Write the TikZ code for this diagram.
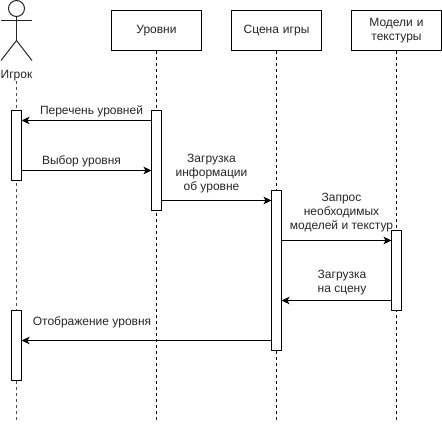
\documentclass[tikz,border=0pt]{standalone}
\usepackage{fontspec}
\setmainfont{Liberation Sans}
\usetikzlibrary{arrows.meta}
\tikzset{
  x=1pt,y=-1pt,
  every node/.style={font=\fontsize{12}{14}\selectfont,text=black!85,inner sep=0pt,outer sep=0pt},
  headbox/.style={draw=black,line width=1pt,minimum width=90pt,minimum height=40pt,align=center,text width=86pt,fill=white},
  actbox/.style={draw=black,line width=1pt,fill=white,minimum width=10pt},
  lifeline/.style={draw=black,line width=1pt,dash pattern=on 3pt off 3pt},
  msg/.style={draw=black,line width=1pt,-{Stealth[length=8pt,width=7.5pt,inset=2pt]}},
  lbl/.style={align=center},
  figure/.style={draw=black!85,line width=1pt}
}
\begin{document}
\begin{tikzpicture}
\useasboundingbox (0,0) rectangle (442,424);
% coordinates
\coordinate (y1) at (0,120.5);
\coordinate (y2) at (0,170.5);
\coordinate (y3) at (0,200.5);
\coordinate (y4) at (0,240.5);
\coordinate (y5) at (0,300.5);
\coordinate (y6) at (0,340.5);
\coordinate (endA) at (16.5,421);
\coordinate (endL) at (156.5,421);
\coordinate (endS) at (276.5,421);
\coordinate (endM) at (396.5,421);
% head boxes
\node[headbox] (lev) at (156.5,30.5) {Уровни};
\node[headbox] (scene) at (276.5,30.5) {Сцена игры};
\node[headbox] (models) at (396.5,30.5) {Модели и\\текстуры};
% actor
\node[draw=black!85,line width=1pt,circle,minimum size=16pt] (head) at (16.5,8.5) {};
\coordinate (hip) at (16.5,40.5);
\coordinate (armL) at (1,20.5);
\coordinate (armR) at (32,20.5);
\coordinate (legL) at (1,60.5);
\coordinate (legR) at (32,60.5);
\draw[figure] (head.south) -- (hip);
\draw[figure] (armL) -- (armR);
\draw[figure] (legL) -- (hip) -- (legR);
\node (actor) at (16.5,75.5) {Игрок};
% lifelines
\draw[lifeline,draw=black!70] (actor.south) -- (endA);
\draw[lifeline] (lev.south) -- (endL);
\draw[lifeline] (scene.south) -- (endS);
\draw[lifeline] (models.south) -- (endM);
% activations
\node[actbox,minimum height=70pt] (a1) at (16.5,145.5) {};
\node[actbox,minimum height=70pt] (a2) at (16.5,345.5) {};
\node[actbox,minimum height=100pt] (l1) at (156.5,160.5) {};
\node[actbox,minimum height=160pt] (s1) at (276.5,270.5) {};
\node[actbox,minimum height=80pt] (m1) at (396.5,270.5) {};
% messages
\draw[msg] (l1.west |- y1) -- (a1.east |- y1);
\draw[msg] (a1.east |- y2) -- (l1.west |- y2);
\draw[msg] (l1.east |- y3) -- (s1.west |- y3);
\draw[msg] (s1.east |- y4) -- (m1.west |- y4);
\draw[msg] (m1.west |- y5) -- (s1.east |- y5);
\draw[msg] (s1.west |- y6) -- (a2.east |- y6);
% labels
\node[lbl] (t1) at (91.5,111) {Перечень уровней};
\node[lbl] (t2) at (81.5,161) {Выбор уровня};
\node[lbl] (t3) at (211.5,173.5) {Загрузка\\информации\\об уровне};
\node[lbl] (t4) at (341.5,213) {Запрос\\необходимых\\моделей и текстур};
\node[lbl] (t5) at (342,283) {Загрузка\\на сцену};
\node[lbl] (t6) at (92,322) {Отображение уровня};
\end{tikzpicture}
\end{document}
